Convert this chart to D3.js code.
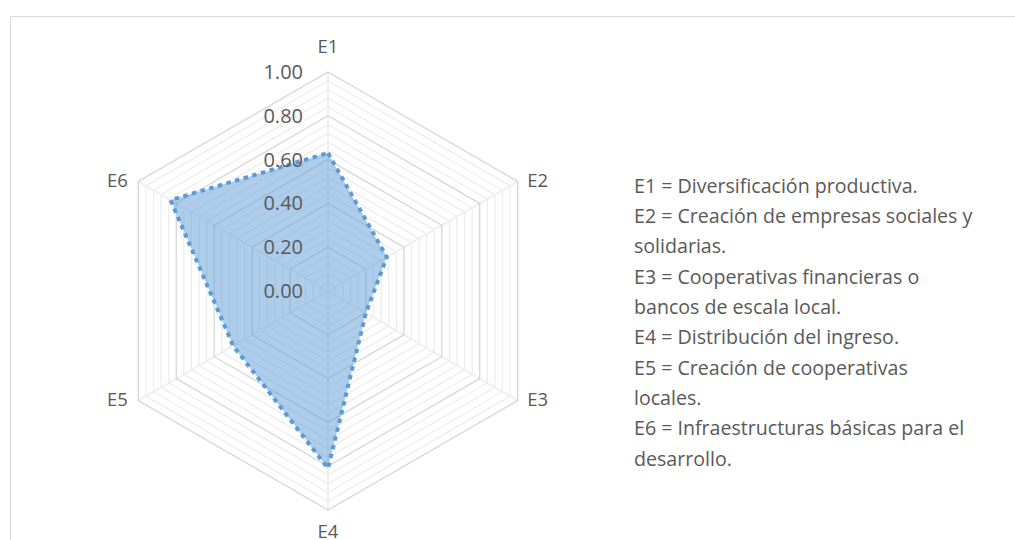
<!DOCTYPE html>
<html><head><meta charset="utf-8">
<script src="https://cdn.jsdelivr.net/npm/d3@7"></script>
<style>html,body{margin:0;padding:0;background:#fff;}svg{display:block;}</style>
</head><body>
<svg id="c" width="1015" height="540"></svg>
<script>
const categories = ["E1","E2","E3","E4","E5","E6"];
const values = [0.63, 0.31, 0.20, 0.81, 0.50, 0.83];
const tickValues = [0, 0.2, 0.4, 0.6, 0.8, 1.0];
const tickLabels = ["0.00","0.20","0.40","0.60","0.80","1.00"];
const legendLines = [
  "E1 = Diversificación productiva.",
  "E2 = Creación de empresas sociales y",
  "solidarias.",
  "E3 = Cooperativas financieras o",
  "bancos de escala local.",
  "E4 = Distribución del ingreso.",
  "E5 = Creación de cooperativas",
  "locales.",
  "E6 = Infraestructuras básicas para el",
  "desarrollo."
];

const svg = d3.select("#c");
const font = "Open Sans, Liberation Sans, sans-serif";
const textColor = "#595959";
const cx = 328, cy = 291;
const r = d3.scaleLinear().domain([0,1]).range([0,219]);
const ang = d3.scaleLinear().domain([0, categories.length]).range([0, 2*Math.PI]);
const pt = (i, v) => [cx + r(v)*Math.sin(ang(i)), cy - r(v)*Math.cos(ang(i))];

// chart border
svg.append("rect").attr("x",10.5).attr("y",16.5).attr("width",1100).attr("height",600)
  .attr("fill","none").attr("stroke","#d9d9d9").attr("stroke-width",1);

const g = svg.append("g");
// minor rings
const minor = d3.range(1, 26).map(k => k*0.04).filter(v => Math.abs(v/0.2 - Math.round(v/0.2)) > 1e-6);
const ringPath = v => d3.line()(categories.map((c,i)=>pt(i,v))) + "Z";
g.selectAll(".minor").data(minor).join("path").attr("d", ringPath)
  .attr("fill","none").attr("stroke","#ededed").attr("stroke-width",1.3);
// spokes
g.selectAll(".spoke").data(categories).join("line")
  .attr("x1",cx).attr("y1",cy)
  .attr("x2",(d,i)=>pt(i,1)[0]).attr("y2",(d,i)=>pt(i,1)[1])
  .attr("stroke","#efefef").attr("stroke-width",2);
// major rings
g.selectAll(".major").data(tickValues.filter(v=>v>0)).join("path").attr("d", ringPath)
  .attr("fill","none").attr("stroke","#d6d6d6").attr("stroke-width",1.3);

// data polygon
const poly = d3.line()(values.map((v,i)=>pt(i,v))) + "Z";
g.append("path").attr("d", poly).attr("fill","#5b9bd5").attr("fill-opacity",0.5).attr("stroke","none");
g.append("path").attr("d", poly).attr("fill","none").attr("stroke","#5b9bd5")
  .attr("stroke-width",4).attr("stroke-dasharray","4.5,4.5");

// tick labels
g.selectAll(".tick").data(tickValues).join("text")
  .attr("x", cx - 25).attr("y", d => cy - r(d))
  .attr("dy","0.35em").attr("text-anchor","end")
  .attr("font-family",font).attr("font-size",20).attr("fill",textColor)
  .text((d,i)=>tickLabels[i]);

// category labels
const off = i => (i % 3 === 0) ? [0, i === 0 ? -25 : 22] : [i < 3 ? 20 : -21, -1];
g.selectAll(".cat").data(categories).join("text")
  .attr("x",(d,i)=>pt(i,1)[0] + off(i)[0])
  .attr("y",(d,i)=>pt(i,1)[1] + off(i)[1])
  .attr("dy","0.35em").attr("text-anchor","middle")
  .attr("font-family",font).attr("font-size",18.5).attr("fill",textColor)
  .text(d=>d);

// legend text
svg.selectAll(".leg").data(legendLines).join("text")
  .attr("x",634).attr("y",(d,i)=>186 + i*30.3)
  .attr("dy","0.35em")
  .attr("font-family",font).attr("font-size",19.6).attr("fill",textColor)
  .text(d=>d);
</script>
</body></html>
